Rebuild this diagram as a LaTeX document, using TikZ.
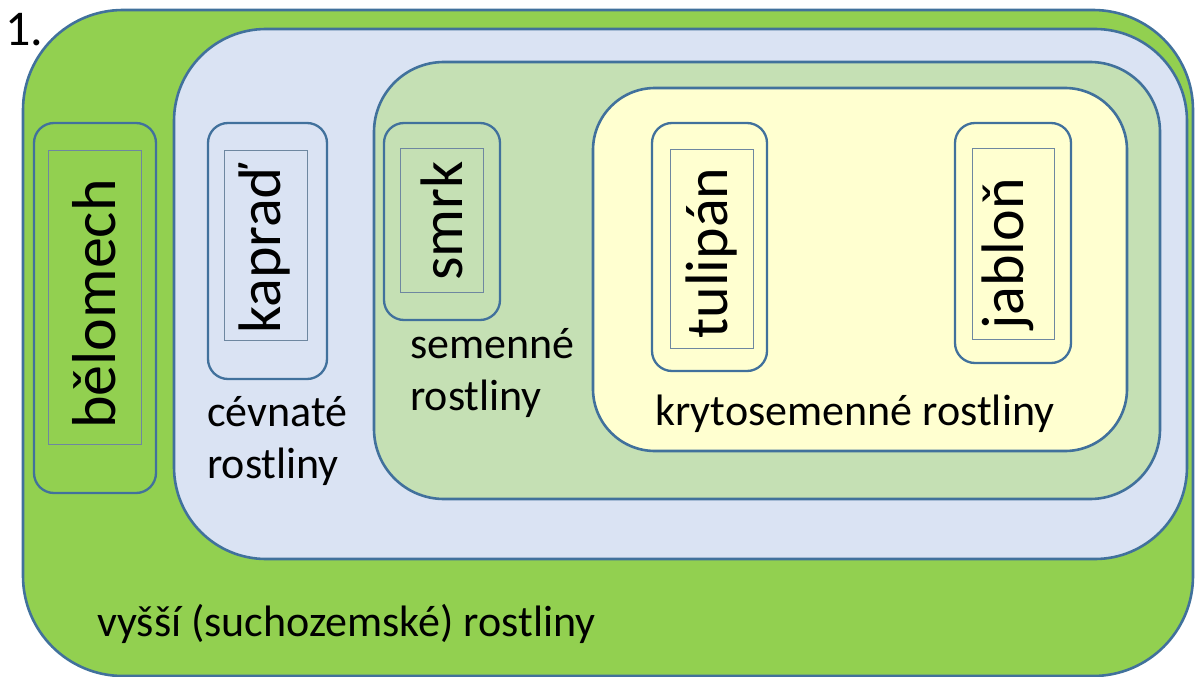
\documentclass[tikz,border=0pt]{standalone}
\usepackage{fontspec}
\setmainfont{Carlito}
\definecolor{bordc}{RGB}{65,113,156}
\definecolor{thinc}{RGB}{110,135,160}
\definecolor{outerg}{RGB}{146,208,80}
\definecolor{blueb}{RGB}{218,227,243}
\definecolor{lgreen}{RGB}{197,224,180}
\definecolor{yell}{RGB}{255,255,208}
\tikzset{
  region/.style={draw=bordc, line width=2.6pt, inner sep=0pt, outer sep=0pt},
  itembox/.style={draw=bordc, line width=2.3pt, rounded corners=20pt, inner sep=0pt, outer sep=0pt},
  thinbox/.style={draw=thinc, line width=0.8pt, inner sep=0pt, outer sep=0pt},
  vtext/.style={rotate=90, inner sep=0pt, font=\fontsize{60}{72}\selectfont},
  lbl/.style={inner sep=0pt, anchor=base west, align=left, font=\fontsize{44}{52}\selectfont},
}
\begin{document}
\begin{tikzpicture}[x=1pt,y=-1pt]
\useasboundingbox (0,0) rectangle (1195,677);
% regions
\node[region, fill=outerg, rounded corners=100pt, minimum width=1170pt, minimum height=666pt] (outer) at (608,343) {};
\node[region, fill=blueb, rounded corners=92pt, minimum width=1013pt, minimum height=530pt] (vasc) at (680.5,294) {};
\node[region, fill=lgreen, rounded corners=70pt, minimum width=786pt, minimum height=437pt] (seed) at (767,280.5) {};
\node[region, fill=yell, rounded corners=62pt, minimum width=534pt, minimum height=363pt] (angio) at (860,269.5) {};
% item boxes
\node[itembox, minimum width=122pt, minimum height=370pt] (belb) at (95,308) {};
\node[thinbox, minimum width=93pt, minimum height=294pt] (beli) at (94.5,297) {};
\node[vtext, font=\fontsize{62}{72}\selectfont] (belt) at (94,304) {bělomech};
\node[itembox, minimum width=119pt, minimum height=256pt] (kapb) at (267.5,251) {};
\node[thinbox, minimum width=83pt, minimum height=190pt] (kapi) at (265.5,245) {};
\node[vtext] (kapt) at (264,249) {kapraď};
\node[itembox, minimum width=116pt, minimum height=197pt] (smrb) at (442,221.5) {};
\node[thinbox, minimum width=83pt, minimum height=144pt] (smri) at (441.5,220) {};
\node[vtext] (smrt) at (442,221) {smrk};
\node[itembox, minimum width=115pt, minimum height=248pt] (tulb) at (709.5,247) {};
\node[thinbox, minimum width=83pt, minimum height=199pt] (tuli) at (711.5,248.5) {};
\node[vtext] (tult) at (711,253) {tulipán};
\node[itembox, minimum width=116pt, minimum height=240pt] (jabb) at (1013,243) {};
\node[thinbox, minimum width=82pt, minimum height=191pt] (jabi) at (1013,244) {};
\node[vtext] (jabt) at (1008,254) {jabloň};
% labels
\node[lbl] (lcev) at (207,478) {cévnaté\\rostliny};
\node[lbl] (lsem) at (410,410) {semenné\\rostliny};
\node[lbl] (lkry) at (655,425) {krytosemenné rostliny};
\node[lbl] (lvys) at (97,636) {vyšší (suchozemské) rostliny};
\node[inner sep=0pt, anchor=base west, font=\fontsize{50}{60}\selectfont] (num) at (5,46) {1.};
\end{tikzpicture}
\end{document}
